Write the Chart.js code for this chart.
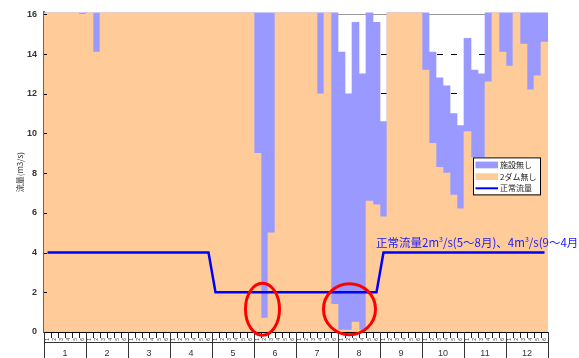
<!DOCTYPE html>
<html>
<head>
<meta charset="utf-8">
<script src="https://cdn.jsdelivr.net/npm/chart.js@4.4.1/dist/chart.umd.min.js"></script>
<style>
    html, body { margin: 0; padding: 0; background: #fff; }
</style>
</head>
<body>
<canvas id="flowChart" width="579" height="358"></canvas>
<script>
// 半旬ごとの流量 (m3/s)
const months = ["1", "2", "3", "4", "5", "6", "7", "8", "9", "10", "11", "12"];
const periods = ["1", "2", "3", "4", "5", "6"];
const yTicks = [0, 2, 4, 6, 8, 10, 12, 14, 16];

// 施設無し
const noFacilities = [
    23.8, 21.9, 20.6, 19.7, 18.9, 17.6,
    19.3, 16.9, 20.0, 24.6, 21.5, 19.6,
    22.3, 27.2, 28.7, 25.8, 31.5, 34.3,
    37.9, 32.7, 39.8, 45.1, 42.2, 36.9,
    33.2, 30.2, 28.4, 24.5, 21.3, 19.4,
    17.8, 19.6, 17.2, 24.1, 40.4, 49.7,
    42.4, 32.3, 23.8, 17.2, 19.0, 16.8,
    14.1, 12.0, 15.6, 13.0, 16.6, 15.6,
    10.6, 27.0, 34.6, 21.8, 30.0, 18.8,
    16.7, 14.1, 12.8, 12.4, 11.0, 10.4,
    14.8, 13.2, 13.0, 16.5, 18.5, 16.7,
    17.2, 19.0, 16.9, 16.3, 16.6, 17.0
];

// 2ダム無し
const noDams = [
    21.5, 19.8, 18.7, 17.9, 17.2, 16.0,
    17.5, 14.1, 18.2, 22.4, 19.6, 17.8,
    20.3, 24.8, 26.1, 23.5, 28.7, 31.2,
    34.5, 29.8, 36.2, 41.0, 38.4, 33.6,
    30.2, 27.5, 25.8, 22.3, 19.4, 17.6,
    9.0, 0.7, 5.0, 18.5, 36.8, 45.2,
    38.6, 29.4, 21.7, 12.0, 17.3, 1.4,
    0.1, 0.1, 0.5, 0.1, 6.6, 6.4,
    5.8, 24.6, 31.5, 19.8, 27.3, 17.1,
    13.2, 9.5, 8.3, 8.0, 6.9, 6.2,
    10.1, 8.8, 8.8, 12.6, 16.8, 14.1,
    13.4, 17.2, 14.5, 12.2, 12.9, 14.6
];

// 正常流量 (月ごと)
const normalFlowByMonth = [4, 4, 4, 4, 2, 2, 2, 2, 4, 4, 4, 4];

const noteParts = [
    ["正常流量2m", false], ["3", true], ["/s(5～8月)、4m", false], ["3", true], ["/s(9～4月)", false]
];

// 半旬ラベルと正常流量を72区間に展開
const periodLabels = [];
const normalFlow = [];
months.forEach((m, mi) => {
    periods.forEach(p => {
        periodLabels.push(p);
        normalFlow.push(normalFlowByMonth[mi]);
    });
});

const FONT = '"Liberation Sans", "Noto Sans CJK JP", sans-serif';
const JP_FONT = '"Noto Sans CJK JP", sans-serif';

const decorations = {
    id: "decorations",
    beforeDatasetsDraw(chart) {
        // 上端(16)の目盛線は灰色の実線
        const { ctx, chartArea, scales: { y } } = chart;
        const py = Math.round(y.getPixelForValue(16)) + 0.5;
        ctx.save();
        ctx.strokeStyle = "#999";
        ctx.lineWidth = 1;
        ctx.beginPath();
        ctx.moveTo(chartArea.left, py);
        ctx.lineTo(chartArea.right, py);
        ctx.stroke();
        ctx.restore();
    },
    afterDatasetsDraw(chart) {
        // 縦軸の内向き目盛
        const { ctx, chartArea, scales: { y } } = chart;
        ctx.save();
        ctx.strokeStyle = "#000";
        ctx.lineWidth = 1;
        y.ticks.forEach(t => {
            const py = Math.round(y.getPixelForValue(t.value)) + 0.5;
            ctx.beginPath();
            ctx.moveTo(chartArea.left, py);
            ctx.lineTo(chartArea.left + 3, py);
            ctx.stroke();
        });
        ctx.restore();
    },
    afterDraw(chart) {
        const { ctx, chartArea, scales: { x, y, month } } = chart;
        const barW = x.getPixelForValue(1) - x.getPixelForValue(0);

        // 月の区切り線 (半旬目盛の段を通す)
        ctx.save();
        ctx.strokeStyle = "#333";
        ctx.lineWidth = 1;
        for (let i = 0; i <= months.length; i++) {
            const px = Math.round(x.getPixelForValue(i * periods.length) - barW / 2) + 0.5;
            ctx.beginPath();
            ctx.moveTo(px, chartArea.bottom);
            ctx.lineTo(px, month.top);
            ctx.stroke();
        }
        ctx.restore();

        // 不足箇所の丸印 (6月・8月)
        const marks = [{ at: 31, dx: -2, rx: 17, ry: 26 }, { at: 43, dx: 1, rx: 26, ry: 25.5 }];
        ctx.save();
        ctx.strokeStyle = "#FF0000";
        ctx.lineWidth = 3;
        marks.forEach(m => {
            ctx.beginPath();
            ctx.ellipse(x.getPixelForValue(m.at) + m.dx, y.getPixelForValue(1.15), m.rx, m.ry, 0, 0, Math.PI * 2);
            ctx.stroke();
        });
        ctx.restore();

        // 正常流量の注記
        ctx.save();
        ctx.fillStyle = "#1a1aff";
        ctx.textBaseline = "middle";
        let tx = x.getPixelForValue(47) - 0.5;
        const ty = y.getPixelForValue(4.5);
        noteParts.forEach(([txt, sup]) => {
            ctx.font = sup ? "7px " + JP_FONT : "11.5px " + JP_FONT;
            ctx.fillText(txt, tx, sup ? ty - 3 : ty);
            tx += ctx.measureText(txt).width;
        });
        ctx.restore();

        // 凡例
        const lx = chartArea.right - 75, ly = chartArea.top + 145;
        ctx.save();
        ctx.fillStyle = "#fff";
        ctx.fillRect(lx, ly, 67, 37);
        ctx.strokeStyle = "#000";
        ctx.lineWidth = 1;
        ctx.strokeRect(lx + 0.5, ly + 0.5, 67, 37);
        ctx.font = "8px " + JP_FONT;
        ctx.textBaseline = "middle";
        chart.data.datasets.forEach((ds, i) => {
            const cy = ly + 7.5 + i * 11.7;
            if (ds.type === "line") {
                ctx.strokeStyle = ds.borderColor;
                ctx.lineWidth = 2;
                ctx.beginPath();
                ctx.moveTo(lx + 2.5, cy);
                ctx.lineTo(lx + 25, cy);
                ctx.stroke();
            } else {
                ctx.fillStyle = ds.backgroundColor;
                ctx.fillRect(lx + 2.5, cy - 3.3, 22.5, 6.7);
            }
            ctx.fillStyle = "#222";
            ctx.fillText(ds.label, lx + 27, cy);
        });
        ctx.restore();
    }
};

const ctx = document.getElementById("flowChart").getContext("2d");
const chart = new Chart(ctx, {
    data: {
        labels: periodLabels,
        datasets: [
            {
                type: "bar",
                label: "施設無し",
                data: noFacilities,
                backgroundColor: "#9999FF",
                grouped: false,
                categoryPercentage: 1,
                barPercentage: 1,
                borderWidth: 0,
                clip: 0,
                order: 2
            },
            {
                type: "bar",
                label: "2ダム無し",
                data: noDams,
                backgroundColor: "#FFCC99",
                grouped: false,
                categoryPercentage: 1,
                barPercentage: 1,
                borderWidth: 0,
                clip: 0,
                order: 1
            },
            {
                type: "line",
                label: "正常流量",
                data: normalFlow,
                borderColor: "#0000FF",
                borderWidth: 2.5,
                pointRadius: 0,
                tension: 0,
                fill: false,
                order: 0
            }
        ]
    },
    options: {
        responsive: false,
        animation: false,
        layout: { padding: { top: 11, right: 31, left: 0, bottom: 0 } },
        plugins: {
            legend: { display: false },
            tooltip: { enabled: false }
        },
        scales: {
            x: {
                type: "category",
                position: "bottom",
                weight: 0,
                offset: true,
                grid: { offset: true, drawOnChartArea: false, tickLength: 6, tickColor: "#222" },
                border: { color: "#000", width: 1 },
                ticks: { autoSkip: false, minRotation: 90, maxRotation: 90, padding: 0, color: "#444", font: { family: FONT, size: 5 } },
                afterFit: s => { s.height = 10; }
            },
            month: {
                type: "category",
                labels: months,
                position: "bottom",
                weight: 1,
                offset: true,
                grid: { offset: true, drawOnChartArea: false, tickLength: 16, tickColor: "#333" },
                border: { display: true, color: "#333", width: 1 },
                ticks: { autoSkip: false, maxRotation: 0, padding: -10, color: "#333", font: { family: FONT, size: 9 } },
                afterFit: s => { s.height = 16; }
            },
            y: {
                min: 0,
                max: 16.1,
                afterBuildTicks: s => { s.ticks = yTicks.map(v => ({ value: v })); },
                grid: {
                    drawTicks: false,
                    lineWidth: 1,
                    color: c => (c.tick && c.tick.value === 16 ? "rgba(0,0,0,0)" : "#000")
                },
                border: { color: "#666", width: 2, dash: [6, 8] },
                ticks: { padding: 7, color: "#333", font: { family: FONT, size: 9, weight: "bold" } },
                title: {
                    display: true,
                    text: "流量(m3/s)",
                    color: "#333",
                    font: { family: JP_FONT, size: 8 },
                    padding: { top: 15, bottom: 0 }
                },
                afterFit: s => { s.width = 44; }
            }
        }
    },
    plugins: [decorations]
});
</script>
</body>
</html>
